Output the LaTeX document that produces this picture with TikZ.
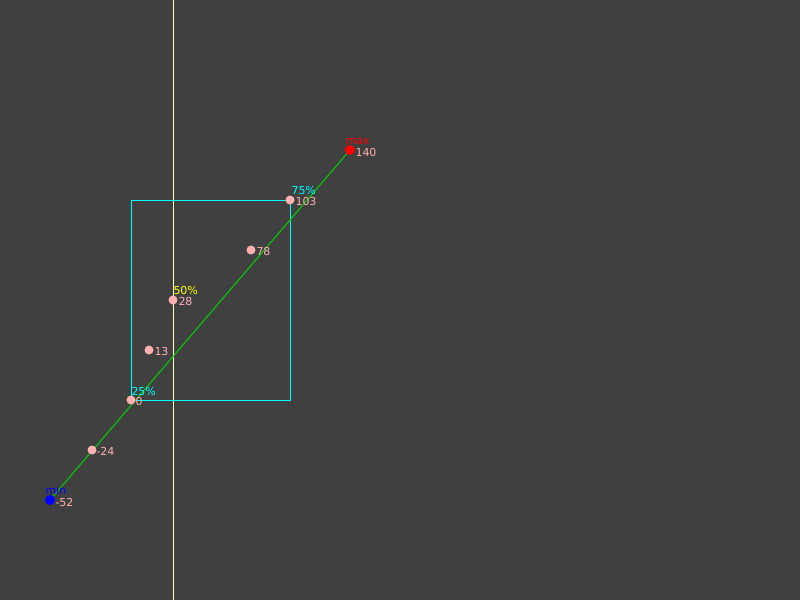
\documentclass[tikz,border=0pt]{standalone}
\usepackage{fontspec}
\setmainfont{DejaVu Sans}
\definecolor{bg}{RGB}{64,64,64}
\definecolor{dotpink}{RGB}{255,176,176}
\definecolor{medline}{RGB}{255,255,190}
\definecolor{linegreen}{RGB}{0,210,0}
\definecolor{boxcyan}{RGB}{0,255,255}
\definecolor{minblue}{RGB}{0,0,255}
\definecolor{maxred}{RGB}{255,0,0}
\definecolor{medyellow}{RGB}{255,255,0}

\begin{document}
\begin{tikzpicture}[x=1pt,y=-1pt,line width=1pt,
  dot/.style={circle,fill=dotpink,inner sep=0pt,minimum size=9pt},
  val/.style={text=dotpink,font=\fontsize{11}{11}\selectfont,anchor=west,inner sep=0pt},
  pct/.style={font=\fontsize{11}{11}\selectfont,anchor=west,inner sep=0pt}]
 \fill[bg] (0,0) rectangle (800,600);
 \useasboundingbox (0,0) rectangle (800,600);

 % quantile positions
 \coordinate (cmin) at (50,500);
 \coordinate (c24) at (92,450);
 \coordinate (cq1) at (131,400);
 \coordinate (c13) at (149,350);
 \coordinate (cmed) at (173,300);
 \coordinate (c78) at (251,250);
 \coordinate (cq3) at (290,200);
 \coordinate (cmax) at (350,150);
 \coordinate (top) at (0,0);
 \coordinate (bot) at (0,600);

 \draw[medline] (cmed |- top) -- (cmed |- bot);
 \draw[boxcyan] (cq1) rectangle (cq3);
 \draw[linegreen] (cmin) -- (cmax);

 \node[dot,fill=minblue,minimum size=10pt] (min) at (cmin) {};
 \node[dot] (p24) at (c24) {};
 \node[dot] (q1) at (cq1) {};
 \node[dot] (p13) at (c13) {};
 \node[dot] (med) at (cmed) {};
 \node[dot] (p78) at (c78) {};
 \node[dot] (q3) at (cq3) {};
 \node[dot,fill=maxred,minimum size=10pt] (max) at (cmax) {};

 % values
 \node[val] (vmin) at (55,502) {-52};
 \node[val] (v24) at (96,451) {-24};
 \node[val] (v0) at (135,401) {0};
 \node[val] (v13) at (154,351) {13};
 \node[val] (v28) at (178,301) {28};
 \node[val] (v78) at (256,251) {78};
 \node[val] (v103) at (295,201) {103};
 \node[val] (vmax) at (355,152) {140};

 % labels above
 \node[pct,text=minblue] (lmin) at (45,490) {min};
 \node[pct,text=boxcyan] (lq1) at (131,391) {25\%};
 \node[pct,text=medyellow] (lmed) at (173,290) {50\%};
 \node[pct,text=boxcyan] (lq3) at (291,190) {75\%};
 \node[pct,text=maxred] (lmax) at (345,141) {max};
\end{tikzpicture}
\end{document}
